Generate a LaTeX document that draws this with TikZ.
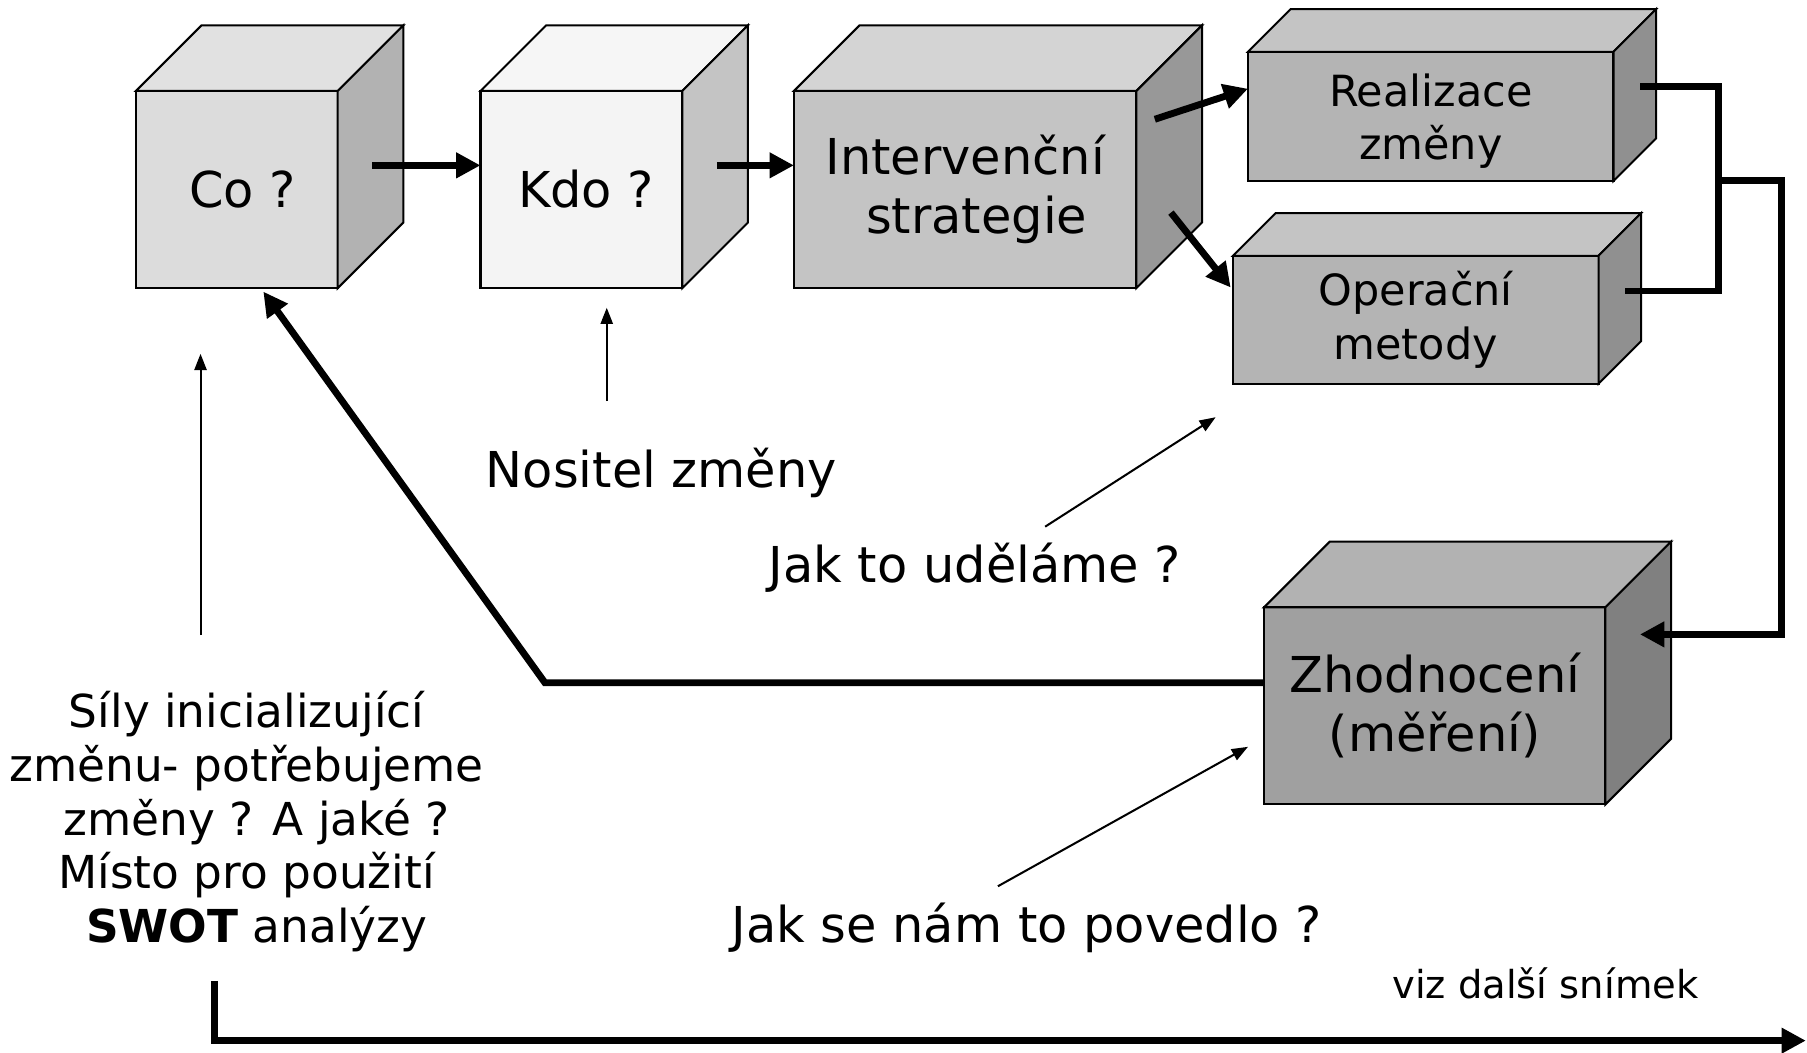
\documentclass[tikz,border=0pt]{standalone}
\usepackage{fontspec}
\setmainfont{DejaVu Sans}
\usetikzlibrary{calc,arrows.meta}
\definecolor{coF}{RGB}{220,220,220}
\definecolor{coT}{RGB}{225,225,225}
\definecolor{coS}{RGB}{178,178,178}
\definecolor{kdoF}{RGB}{244,244,244}
\definecolor{kdoT}{RGB}{246,246,246}
\definecolor{kdoS}{RGB}{196,196,196}
\definecolor{intF}{RGB}{196,196,196}
\definecolor{intT}{RGB}{212,212,212}
\definecolor{intS}{RGB}{152,152,152}
\definecolor{realF}{RGB}{180,180,180}
\definecolor{realT}{RGB}{196,196,196}
\definecolor{realS}{RGB}{144,144,144}
\definecolor{zhF}{RGB}{160,160,160}
\definecolor{zhT}{RGB}{178,178,178}
\definecolor{zhS}{RGB}{128,128,128}

\begin{document}
\begin{tikzpicture}[x=0.01cm, y=-0.01cm,
	cubeface/.style={draw, line width=0.5pt, inner sep=0pt, outer sep=0pt, align=center, font=\fontsize{12.2}{14.5}\selectfont},
	flatcube/.style={font=\fontsize{10.6}{13.1}\selectfont},
	bigline/.style={line width=1.7pt},
	bigarrow/.style={line width=1.7pt, -{Triangle[length=6pt,width=6pt]}},
	thinarrow/.style={line width=0.5pt, -{Triangle[length=4pt,width=3pt]}},
	notetxt/.style={align=center, inner sep=0pt, font=\fontsize{12.2}{14.5}\selectfont}]

		\useasboundingbox (0,0) rectangle (1568,913);

		\newcommand{\mkcube}[6]{
			%face avant
			\node[cubeface, #3, fill=#5F] (#1) at (#2) {#6};
			%dessus et cote
			\filldraw[fill=#5T, line width=0.5pt] (#1.north west) -- ++(#4,-#4) -- ($(#1.north east)+(#4,-#4)$) -- (#1.north east) -- cycle;
			\filldraw[fill=#5S, line width=0.5pt] (#1.north east) -- ++(#4,-#4) -- ($(#1.south east)+(#4,-#4)$) -- (#1.south east) -- cycle;
		}

		\mkcube{co}{205.5,164.5}{minimum width=1.75cm, minimum height=1.71cm}{57}{co}{\hspace*{2.8pt}Co ?}
		\mkcube{kdo}{504.5,164.5}{minimum width=1.75cm, minimum height=1.71cm}{57}{kdo}{\hspace*{2.3pt}Kdo ?}
		\mkcube{int}{837.5,164.5}{minimum width=2.97cm, minimum height=1.71cm}{57}{int}{Intervenční\\\hspace*{5.7pt}strategie}
		\mkcube{real}{1241.5,101}{minimum width=3.17cm, minimum height=1.12cm, flatcube, text depth=-4pt}{37}{real}{Realizace\\změny}
		\mkcube{oper}{1228.5,277.5}{minimum width=3.17cm, minimum height=1.11cm, flatcube}{37}{real}{Operační\\metody}
		\mkcube{zh}{1245,612.5}{minimum width=2.96cm, minimum height=1.71cm}{57}{zh}{Zhodnocení\\(měření)}

		\node[notetxt] (nositel) at (574,410) {Nositel změny};
		\node[notetxt] (jakto) at (846,493) {Jak to uděláme ?};
		\node[notetxt] (jakse) at (891,805) {Jak se nám to povedlo ?};
		\node[notetxt, font=\fontsize{11.2}{13.3}\selectfont] (sily) at (214,713) {Síly inicializující\\změnu- potřebujeme\\\hspace*{5pt}změny ? A jaké ?\\Místo pro použití\\\hspace*{5pt}\textbf{SWOT} analýzy};
		\node[notetxt, font=\fontsize{9.5}{11}\selectfont] (viz) at (1341,853) {viz další snímek};

		%hlavni tok
		\draw[bigarrow] ($(co.east)+(30,-21)$) -- ($(kdo.west)+(0,-21)$);
		\draw[bigarrow] ($(kdo.east)+(30,-21)$) -- ($(int.west)+(0,-21)$);
		\draw[bigarrow] ($(int.east)+(16,-61)$) -- ($(real.west)+(0,-24)$);
		\draw[bigarrow] ($(int.east)+(30,20)$) -- ($(oper.west)+(-2,-28)$);

		\coordinate (join) at (1491,157);
		\draw[bigline] ($(real.east)+(23,-26)$) -| (join) |- ($(oper.east)+(23,-25)$);
		\draw[bigarrow] (join) -- ++(55,0) |- ($(zh.east)+(30,-62)$);
		\draw[bigarrow] ($(zh.west)+(0,-20)$) -- ++(-624,0) -- ($(co.south)+(23,3)$);

		%popisky
		\draw[thinarrow] ($(kdo.south)+(22,98)$) -- ($(kdo.south)+(22,17)$);
		\draw[thinarrow] ($(co.south)+(-31.5,301)$) -- ($(co.south)+(-31.5,57)$);
		\draw[thinarrow] ($(oper.south west)+(-163,124)$) -- ($(oper.south west)+(-15,29)$);
		\draw[thinarrow] ($(zh.south west)+(-231,71)$) -- ($(zh.south west)+(-14,-50)$);

		\coordinate (next) at (1567,903);
		\draw[bigarrow] ($(co.south)+(-19,601)$) |- (next);

\end{tikzpicture}
\end{document}
